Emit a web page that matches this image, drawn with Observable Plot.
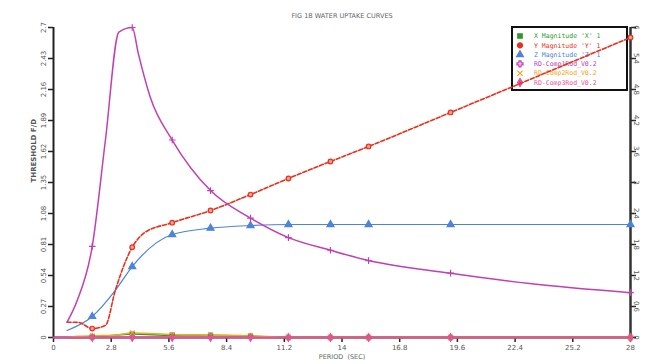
<!DOCTYPE html>
<html><head><meta charset="utf-8">
<script src="https://cdn.jsdelivr.net/npm/d3@7"></script>
<script src="https://cdn.jsdelivr.net/npm/@observablehq/plot@0.6"></script>
<style>body{margin:0;background:#fff} #chart{width:647px;height:364px}</style>
</head><body><div id="chart"></div>
<script>
const title = "FIG 1B WATER UPTAKE CURVES";
const xLabel = "PERIOD  (SEC)";
const yLabel = "THRESHOLD F/D";
const seriesNames = ["X Magnitude 'X' 1", "Y Magnitude 'Y' 1", "Z Magnitude 'Z' 1",
  "RD-Comp1Rod_V0.2", "RD-Comp2Rod_V0.2", "RD-Comp3Rod_V0.2"];
const xTicks = [0, 2.8, 5.6, 8.4, 11.2, 14, 16.8, 19.6, 22.4, 25.2, 28];
const yLeftTicks = [0, 0.27, 0.54, 0.81, 1.08, 1.35, 1.62, 1.89, 2.16, 2.43, 2.7];
const yRightTicks = [0, 0.6, 1.2, 1.8, 2.4, 3.0, 3.6, 4.2, 4.8, 5.4, 6];
const markerX = [1.88, 3.82, 5.76, 7.62, 9.56, 11.4, 13.44, 15.29, 19.27, 28];

const greenX = [0.66, 1.88, 3.0, 3.82, 5.76, 7.62, 9.56, 11.4, 13.44, 15.29, 19.27, 28];
const greenY = [0, 0.005, 0.02, 0.03, 0.02, 0.02, 0.012, 0, 0, 0, 0, 0];
const redX = [0.66, 1.21, 1.88, 2.52, 3.0, 3.82, 4.37, 5.76, 7.62, 9.56, 11.4, 13.44, 15.29, 19.27, 28];
const redY = [0.133, 0.131, 0.078, 0.105, 0.41, 0.786, 0.906, 1.0, 1.106, 1.245, 1.385, 1.533, 1.664, 1.96, 2.613];
const blueX = [0.66, 1.88, 3.0, 3.82, 5.76, 7.62, 9.56, 11.4, 13.44, 15.29, 19.27, 28];
const blueY = [0.061, 0.183, 0.41, 0.618, 0.897, 0.952, 0.975, 0.984, 0.984, 0.984, 0.984, 0.984];
const purpleX = [0.66, 1.15, 1.88, 2.52, 3.17, 3.82, 4.12, 4.7, 5.76, 7.62, 9.56, 11.4, 13.44, 15.29, 19.27, 23.1, 28];
const purpleY = [0.133, 0.322, 0.793, 1.72, 2.66, 2.70, 2.47, 2.09, 1.72, 1.28, 1.04, 0.87, 0.76, 0.67, 0.56, 0.47, 0.39];
const orangeX = [0.66, 1.2, 1.88, 3.0, 3.82, 5.76, 7.62, 9.56, 11.4, 13.44, 15.29, 19.27, 28];
const orangeY = [0, 0.01, 0.015, 0.02, 0.04, 0.025, 0.02, 0.015, 0, 0, 0, 0, 0];
const pinkX = [0, 1.88, 3.82, 5.76, 7.62, 9.56, 11.4, 13.44, 15.29, 19.27, 28];
const pinkY = [0, 0, 0, 0, 0, 0, 0, 0, 0, 0, 0];

const colors = ["#2e9a2e", "#e8301e", "#4b84d8", "#c040b4", "#f0a820", "#e8509a"];
const symbols = ["square", "circle", "triangle", "plus", "times", "diamond"];

const seriesXY = [[greenX, greenY], [redX, redY], [blueX, blueY], [purpleX, purpleY], [orangeX, orangeY], [pinkX, pinkY]];
const series = seriesXY.map(([xs, ys], i) => xs.map((x, j) => ({x, y: ys[j], s: i})));
const isMarker = d => markerX.includes(d.x);
const rScale = 2.7 / 6;

const lineStyle = [
  {stroke: colors[0], strokeWidth: 1.5},
  {stroke: colors[1], strokeWidth: 1.6, strokeDasharray: "4,2"},
  {stroke: colors[2], strokeWidth: 1.2},
  {stroke: colors[3], strokeWidth: 1.5},
  {stroke: colors[4], strokeWidth: 1.5},
  {stroke: colors[5], strokeWidth: 2}
];
const order = [0, 4, 2, 1, 3, 5];
const marks = [];
for (const i of order) {
  marks.push(Plot.line(series[i], {x: "x", y: "y", curve: "monotone-x", ...lineStyle[i]}));
}
for (const i of order) {
  const filled = i === 0 || i === 2 || i === 5;
  marks.push(Plot.dot(series[i].filter(isMarker), {x: "x", y: "y", symbol: symbols[i], r: i === 2 ? 2.6 : 2.3,
    stroke: colors[i], strokeWidth: 1.2, fill: filled ? colors[i] : (i === 1 ? "#f6a090" : "none")}));
}

const chart = Plot.plot({
  width: 647, height: 364,
  marginLeft: 53, marginRight: 17, marginTop: 27, marginBottom: 27,
  style: {fontFamily: "DejaVu Sans", fontSize: "7px", background: "white"},
  x: {domain: [0, 28]},
  y: {domain: [0, 2.7]},
  marks: [
    Plot.axisX(xTicks, {tickSize: 5, tickFormat: d => d3.format("~g")(d), fill: "#555", stroke: "#222", strokeWidth: 1.5, tickPadding: 3, label: null}),
    Plot.axisY(yLeftTicks, {anchor: "left", tickSize: 5, tickRotate: -90, tickFormat: d => d3.format("~g")(d), fill: "#555", stroke: "#222", strokeWidth: 1.5, tickPadding: 3, label: null}),
    Plot.axisY(yRightTicks.map(v => v * rScale), {anchor: "right", tickSize: 5, tickRotate: 90, tickFormat: (d, i) => d3.format("~g")(yRightTicks[i]), fill: "#555", stroke: "#222", strokeWidth: 1.5, tickPadding: 3, label: null}),
    Plot.ruleX([0], {y1: 0, y2: 2.7, stroke: "#222", strokeWidth: 2}),
    Plot.ruleX([28], {y1: 0, y2: 2.7, stroke: "#333", strokeWidth: 2.5}),
    Plot.ruleY([0], {stroke: "#222", strokeWidth: 2}),
    ...marks,
    Plot.text([title], {frameAnchor: "top", dy: -14, fill: "#666", fontSize: 6.5}),
    Plot.text([xLabel], {frameAnchor: "bottom", dy: 21, fill: "#666", fontSize: 6.5}),
    Plot.text([yLabel], {frameAnchor: "left", dx: -20, rotate: -90, fill: "#555", fontSize: 7, fontWeight: "bold"})
  ]
});
document.getElementById("chart").appendChild(chart);

// legend, placed beneath the data lines
const svg = d3.select(chart);
const lg = svg.insert("g", "g[aria-label='line']").attr("transform", "translate(512,27)");
lg.append("rect").attr("x", 0).attr("y", 0).attr("width", 115).attr("height", 63)
  .attr("fill", "white").attr("stroke", "#111").attr("stroke-width", 2);
seriesNames.forEach((name, i) => {
  const y = 9 + i * 9.3;
  const sym = d3.symbol().type({square: d3.symbolSquare, circle: d3.symbolCircle, triangle: d3.symbolTriangle,
    plus: d3.symbolCross, times: d3.symbolX, diamond: d3.symbolDiamond}[symbols[i]]).size(20);
  lg.append("path").attr("d", sym()).attr("transform", `translate(8,${y})`)
    .attr("fill", (i === 0 || i === 2 || i === 5 || i === 1) ? colors[i] : "none")
    .attr("stroke", colors[i]).attr("stroke-width", 1.2);
  lg.append("text").attr("x", 22).attr("y", y).attr("dy", "0.35em").attr("text-anchor", "start")
    .attr("font-family", "DejaVu Sans Mono").attr("font-size", 6.5).attr("fill", colors[i]).text(name);
});
</script>
</body></html>
